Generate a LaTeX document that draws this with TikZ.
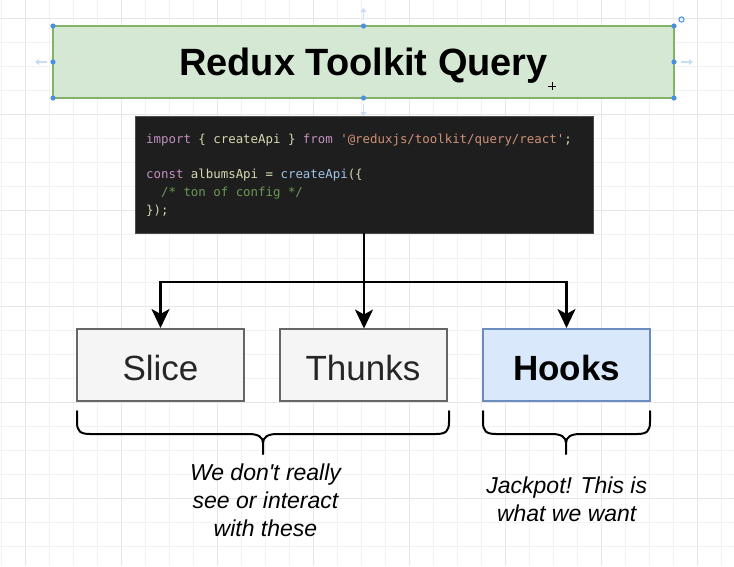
\documentclass[tikz,border=0pt]{standalone}
\usepackage{fontspec}
\setmainfont{Liberation Sans}
\setmonofont{DejaVu Sans Mono}
\newfontfamily\notefont{Liberation Sans}
\usetikzlibrary{arrows.meta}
\definecolor{gridminor}{HTML}{F2F2F2}
\definecolor{gridmajor}{HTML}{E7E7E7}
\definecolor{titlefill}{HTML}{D5E8D4}
\definecolor{titleline}{HTML}{82B366}
\definecolor{grayfill}{HTML}{F5F5F5}
\definecolor{grayline}{HTML}{666666}
\definecolor{bluefill}{HTML}{DAE8FC}
\definecolor{blueline}{HTML}{6C8EBF}
\definecolor{codebg}{HTML}{1E1E1E}
\definecolor{ckw}{HTML}{C391C0}
\definecolor{cid}{HTML}{D8D8B0}
\definecolor{cstr}{HTML}{CE9178}
\definecolor{cfn}{HTML}{A0C4E8}
\definecolor{ccom}{HTML}{6A9955}
\definecolor{handle}{HTML}{4A90E2}
\definecolor{handlefaint}{HTML}{C9DDF5}
\tikzset{
  boxbase/.style={rectangle, inner sep=0pt, line width=2pt,
    minimum width=167pt, minimum height=72pt, text height=30pt, text depth=0pt,
    font=\fontsize{35}{40}\selectfont},
  graybox/.style={boxbase, draw=grayline, fill=grayfill, text=black!85},
  bluebox/.style={boxbase, draw=blueline, fill=bluefill, font=\fontsize{35}{40}\selectfont\bfseries},
  titlebox/.style={rectangle, inner sep=0pt, line width=2pt, draw=titleline, fill=titlefill,
    minimum width=621pt, minimum height=72pt, text height=26pt, text depth=0pt,
    font=\fontsize{38}{44}\selectfont\bfseries},
  codebox/.style={rectangle, inner sep=0pt, fill=codebg, draw=codebg!80!white,
    line width=0.8pt, minimum width=458pt, minimum height=117pt},
  codeline/.style={anchor=base west, inner sep=0pt, text=cid,
    font=\fontsize{12.4}{15}\ttfamily},
  arr/.style={line width=2.4pt, -{Stealth[length=19pt,width=18pt,inset=5pt]}},
  bracepath/.style={line width=2pt, line cap=round, line join=round},
  note/.style={anchor=base, inner sep=0pt, font=\notefont\fontsize{23}{28}\selectfont\itshape},
  handledot/.style={fill=handle},
  faintarrow/.style={draw=handlefaint, line width=1.6pt, -{Triangle[length=4pt,width=6pt]}},
}
\begin{document}
\begin{tikzpicture}[x=1pt,y=-1pt]
\useasboundingbox (0,0) rectangle (734,566);
\fill[white] (0,0) rectangle (734,566);
% grid
\foreach \gx in {1.7,25.7,...,734} \draw[gridminor, line width=0.8pt] (\gx,0) -- (\gx,566);
\foreach \gy in {18.3,42.3,...,566} \draw[gridminor, line width=0.8pt] (0,\gy) -- (734,\gy);
\foreach \gx in {25.7,121.7,...,734} \draw[gridmajor, line width=0.9pt] (\gx,0) -- (\gx,566);
\foreach \gy in {18.3,114.3,...,566} \draw[gridmajor, line width=0.9pt] (0,\gy) -- (734,\gy);

% title
\node[titlebox] (title) at (363.5,62) {Redux Toolkit Query};

% selection handles (editor)
\foreach \hx/\hy in {53/26,363.5/26,674/26,53/62,674/62,53/98,363.5/98,674/98}
  \fill[handledot] (\hx,\hy) circle (2.6);
\draw[faintarrow] (363.5,20) -- (363.5,8);
\draw[faintarrow] (363.5,104) -- (363.5,116);
\draw[faintarrow] (47,62) -- (35,62);
\draw[faintarrow] (681,62) -- (693,62);
\draw[handle, line width=1pt] (681.5,19.5) circle (2.6);
\draw[black, line width=0.9pt] (548,86) -- (556,86) (552,82) -- (552,90);

% code box
\node[codebox] (code) at (364,174.5) {};
\node[codeline] (l1) at (146,143.3) {\textcolor{ckw}{import} \{ createApi \} \textcolor{ckw}{from} \textcolor{cstr}{'@reduxjs/toolkit/query/react'};};
\node[codeline] (l3) at (146,178.3) {\textcolor{ckw}{const} albumsApi = \textcolor{cfn}{createApi}(\{};
\node[codeline] (l4) at (146,196.1) {\textcolor{ccom}{\ \ /* ton of config */}};
\node[codeline] (l5) at (146,214) {\});};

% boxes
\node[graybox] (slice) at (160.5,365) {Slice};
\node[graybox] (thunks) at (363,365) {Thunks};
\node[bluebox] (hooks) at (566.5,365) {Hooks};

% connectors
\coordinate (split) at (364,282);
\draw[arr] (code.south) -- (364,328.5);
\draw[arr] (code.south) -- (split) -| (slice.north);
\draw[arr] (split) -| (hooks.north);

% braces
\draw[bracepath] (77,411) -- (77,422) .. controls (77,431) and (80,434) .. (90,434)
  -- (249,434) .. controls (258,434) and (263,437) .. (263,443) -- (263,454);
\draw[bracepath] (449,411) -- (449,422) .. controls (449,431) and (446,434) .. (436,434)
  -- (277,434) .. controls (268,434) and (263,437) .. (263,443);
\draw[bracepath] (483,411) -- (483,422) .. controls (483,431) and (486,434) .. (496,434)
  -- (552,434) .. controls (561,434) and (566,437) .. (566,443) -- (566,454);
\draw[bracepath] (650,411) -- (650,422) .. controls (650,431) and (647,434) .. (637,434)
  -- (580,434) .. controls (571,434) and (566,437) .. (566,443);

% notes
\node[note] (n1) at (265.5,480.7) {We don't really};
\node[note] (n2) at (265.5,508.7) {see or interact};
\node[note] (n3) at (265.5,536.7) {with these};
\node[note] (n4) at (566.7,493.3) {Jackpot! This is};
\node[note] (n5) at (566.7,521.7) {what we want};
\end{tikzpicture}
\end{document}
